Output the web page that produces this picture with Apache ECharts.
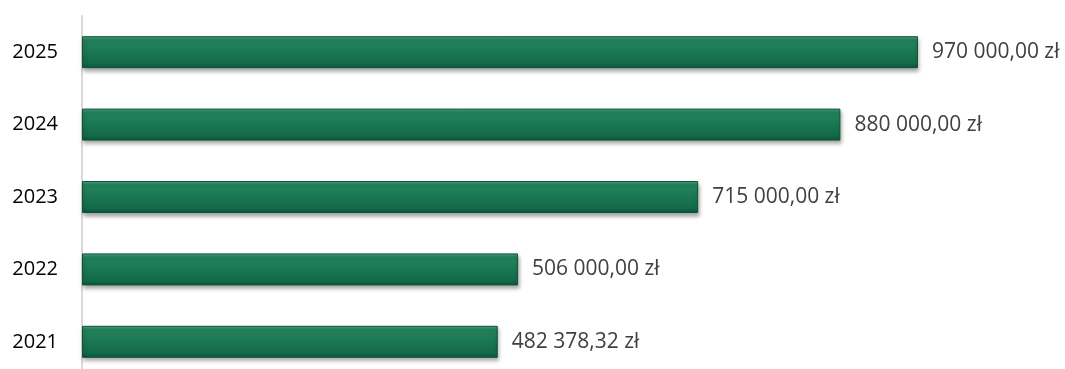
<!DOCTYPE html>
<html><head><meta charset="utf-8">
<script src="https://cdn.jsdelivr.net/npm/echarts@6/dist/echarts.min.js"></script>
<style>html,body{margin:0;padding:0;background:#fff}#c{width:1065px;height:369px}</style>
</head><body><div id="c"></div>
<script>
const years = ['2021', '2022', '2023', '2024', '2025'];
const values = [482378.32, 506000, 715000, 880000, 970000];

function fmt(v) {
  const parts = v.toFixed(2).split('.');
  const intPart = parts[0].replace(/\B(?=(\d{3})+(?!\d))/g, ' ');
  return intPart + ',' + parts[1] + ' zł';
}

const chart = echarts.init(document.getElementById('c'));
chart.setOption({
  animation: false,
  grid: { left: 82, top: 16, width: 948, height: 362, containLabel: false, outerBoundsMode: 'none' },
  xAxis: { type: 'value', min: 0, max: 1100000, show: false },
  yAxis: {
    type: 'category', data: years, offset: 2,
    axisLine: { show: true, lineStyle: { color: '#d9d9d9', width: 2 } },
    axisTick: { show: false },
    axisLabel: { color: '#000', fontFamily: 'Open Sans', fontSize: 20, margin: 22 }
  },
  series: [{
    type: 'bar', data: values, barWidth: 32,
    itemStyle: {
      color: new echarts.graphic.LinearGradient(0, 0, 0, 1, [
        { offset: 0, color: '#4aa67f' },
        { offset: 0.12, color: '#24845e' },
        { offset: 0.5, color: '#1a7753' },
        { offset: 0.85, color: '#136a48' },
        { offset: 1, color: '#0c5438' }
      ]),
      borderColor: '#0d5437', borderWidth: 1,
      shadowColor: 'rgba(0,0,0,0.35)', shadowBlur: 4, shadowOffsetY: 3, shadowOffsetX: 1
    },
    label: {
      show: true, position: 'right', distance: 14,
      color: '#404040', fontFamily: 'Open Sans', fontSize: 21,
      formatter: p => fmt(p.value)
    }
  }]
});
</script></body></html>
